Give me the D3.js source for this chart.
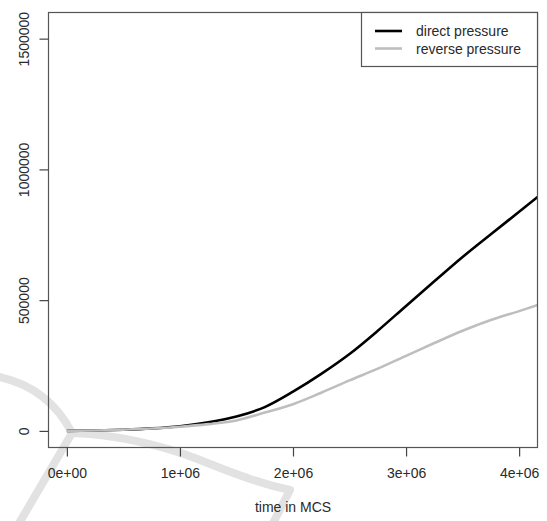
<!DOCTYPE html>
<html>
<head>
<meta charset="utf-8">
<script src="https://cdn.jsdelivr.net/npm/d3@7"></script>
<style>
  html, body { margin: 0; padding: 0; background: #fff; }
  svg { display: block; }
  text { font-family: "Liberation Sans", Arial, sans-serif; fill: #2a2a2a; }
</style>
</head>
<body>
<div id="chart"></div>
<script>
// values
const timeMCS = [0, 250000, 500000, 750000, 1000000, 1250000, 1500000, 1750000, 2000000,
  2250000, 2500000, 2750000, 3000000, 3250000, 3500000, 3750000, 4000000, 4200000];
const directPressure = [0, 1500, 4500, 9500, 18000, 33000, 55000, 91000, 150000,
  218000, 294000, 383000, 478000, 572000, 665000, 752000, 838000, 907000];
const reversePressure = [0, 1500, 4500, 9000, 16000, 26000, 40000, 70000, 102000,
  146000, 193000, 238000, 287000, 336000, 383000, 424000, 458000, 487000];
const xTicks = [0, 1000000, 2000000, 3000000, 4000000];
const xTickLabels = ["0e+00", "1e+06", "2e+06", "3e+06", "4e+06"];
const yTicks = [0, 500000, 1000000, 1500000];
const seriesNames = ["direct pressure", "reverse pressure"];
const seriesColors = ["#000000", "#bebebe"];

const width = 547, height = 521;
const plot = { left: 48.5, right: 537.5, top: 12.5, bottom: 447.5 };

const svg = d3.select('#chart').append('svg')
  .attr('width', width)
  .attr('height', height);

// faint watermark behind the plot
const wm = svg.append('g')
  .attr('fill', 'none')
  .attr('stroke', '#e2e2e2')
  .attr('stroke-width', 8)
  .attr('stroke-linecap', 'round')
  .attr('stroke-linejoin', 'round');
wm.append('path').attr('d', 'M-5,376 Q48,386 72,433');
wm.append('path').attr('d', 'M72,433 L18,525');
wm.append('path').attr('d', 'M72,433 C110,434 160,444 200,460 S262,484 290,490 L272,525');

const x = d3.scaleLinear().domain([-162500, 4162500]).range([plot.left, plot.right]);
const y = d3.scaleLinear().domain([-63500, 1600000]).range([plot.bottom, plot.top]);

svg.append('clipPath').attr('id', 'clip')
  .append('rect')
  .attr('x', plot.left).attr('y', plot.top)
  .attr('width', plot.right - plot.left)
  .attr('height', plot.bottom - plot.top);

const line = d3.line()
  .x(d => x(d[0]))
  .y(d => y(d[1]))
  .curve(d3.curveMonotoneX);

const series = [directPressure, reversePressure];
const lines = svg.append('g').attr('clip-path', 'url(#clip)');
series.forEach((vals, i) => {
  lines.append('path')
    .datum(timeMCS.map((t, j) => [t, vals[j]]))
    .attr('fill', 'none')
    .attr('stroke', seriesColors[i])
    .attr('stroke-width', 2.6)
    .attr('d', line);
});

// box round the plot
svg.append('rect')
  .attr('x', plot.left).attr('y', plot.top)
  .attr('width', plot.right - plot.left)
  .attr('height', plot.bottom - plot.top)
  .attr('fill', 'none')
  .attr('stroke', '#555')
  .attr('stroke-width', 1.2);

// x axis
const xAxis = svg.append('g')
  .attr('transform', `translate(0,${plot.bottom})`)
  .call(d3.axisBottom(x).tickValues(xTicks).tickSize(9).tickPadding(12)
    .tickFormat((d, i) => xTickLabels[i]));
xAxis.select('.domain').remove();
xAxis.selectAll('line').attr('stroke', '#444').attr('stroke-width', 1.2);
xAxis.selectAll('text').attr('font-size', 14).attr('fill', '#2a2a2a')
  .attr('font-family', '"Liberation Sans", Arial, sans-serif');

// y axis, labels turned like R's default
const yAxis = svg.append('g')
  .attr('transform', `translate(${plot.left},0)`)
  .call(d3.axisLeft(y).tickValues(yTicks).tickSize(9).tickFormat(d3.format('d')));
yAxis.select('.domain').remove();
yAxis.selectAll('line').attr('stroke', '#444').attr('stroke-width', 1.2);
yAxis.selectAll('text')
  .attr('font-size', 14).attr('fill', '#2a2a2a')
  .attr('font-family', '"Liberation Sans", Arial, sans-serif')
  .attr('x', null).attr('dy', null)
  .attr('text-anchor', 'middle')
  .attr('transform', 'translate(-20,0) rotate(-90)');

svg.append('text')
  .attr('x', (plot.left + plot.right) / 2)
  .attr('y', 512)
  .attr('text-anchor', 'middle')
  .attr('font-size', 14)
  .text('time in MCS');

// legend in the top right corner
const legend = svg.append('g');
legend.append('rect')
  .attr('x', 361.5).attr('y', plot.top)
  .attr('width', plot.right - 361.5).attr('height', 54)
  .attr('fill', '#fff')
  .attr('stroke', '#555')
  .attr('stroke-width', 1.2);
seriesNames.forEach((name, i) => {
  const ly = 31 + i * 17.5;
  legend.append('line')
    .attr('x1', 375).attr('x2', 402)
    .attr('y1', ly).attr('y2', ly)
    .attr('stroke', seriesColors[i])
    .attr('stroke-width', 2.6);
  legend.append('text')
    .attr('x', 416).attr('y', ly + 5)
    .attr('font-size', 14)
    .text(name);
});
</script>
</body>
</html>
